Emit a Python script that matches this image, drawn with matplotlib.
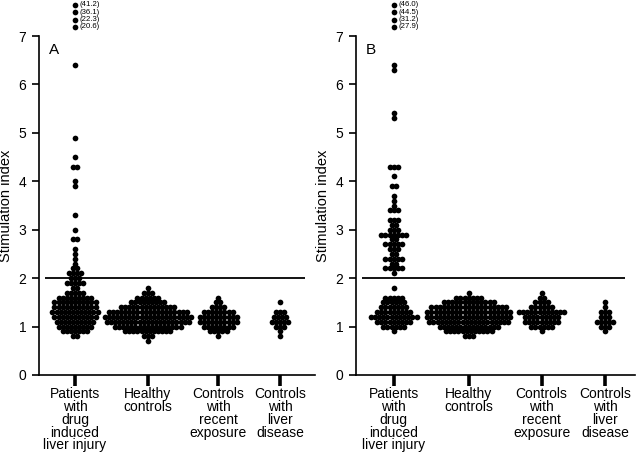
# -*- coding: utf-8 -*-
"""Stimulation index dot plots, panels A and B."""
import numpy as np
import matplotlib
matplotlib.use('Agg')
import matplotlib.pyplot as plt

plt.rcParams['font.family'] = ['Liberation Sans', 'DejaVu Sans']

categories = ['Patients\nwith\ndrug\ninduced\nliver injury', 'Healthy\ncontrols',
              'Controls\nwith\nrecent\nexposure', 'Controls\nwith\nliver\ndisease']

# panel A: stimulation index level -> number of subjects at that level
a_patients_lv = [6.4, 4.9, 4.5, 4.3, 4.0, 3.9, 3.3, 3.0, 2.8, 2.6, 2.5, 2.4, 2.3, 2.2, 2.1,
                 2.0, 1.9, 1.8, 1.7, 1.6, 1.5, 1.4, 1.3, 1.2, 1.1, 1.0, 0.9, 0.8]
a_patients_n = [1, 1, 1, 2, 1, 1, 1, 1, 2, 1, 1, 1, 1, 2, 4,
                3, 5, 2, 5, 9, 11, 11, 12, 11, 10, 9, 7, 2]
a_patients_off = [41.2, 36.1, 22.3, 20.6]

a_healthy_lv = [1.8, 1.7, 1.6, 1.5, 1.4, 1.3, 1.2, 1.1, 1.0, 0.9, 0.8, 0.7]
a_healthy_n = [1, 3, 6, 9, 14, 20, 22, 21, 17, 12, 3, 1]

a_recent_lv = [1.6, 1.5, 1.4, 1.3, 1.2, 1.1, 1.0, 0.9, 0.8]
a_recent_n = [1, 2, 4, 8, 10, 10, 8, 5, 1]

a_liver_lv = [1.5, 1.3, 1.2, 1.1, 1.0, 0.9, 0.8]
a_liver_n = [1, 3, 4, 5, 3, 1, 1]

# panel B
b_patients_lv = [6.4, 6.3, 5.4, 5.3, 4.3, 4.1, 3.9, 3.7, 3.6, 3.5, 3.4, 3.2, 3.1, 3.0, 2.9,
                 2.8, 2.7, 2.6, 2.5, 2.4, 2.3, 2.2, 2.1,
                 1.8, 1.6, 1.5, 1.4, 1.3, 1.2, 1.1, 1.0, 0.9]
b_patients_n = [1, 1, 1, 1, 3, 1, 2, 1, 1, 1, 3, 3, 2, 3, 7,
                2, 5, 3, 2, 5, 2, 5, 1,
                1, 5, 6, 7, 9, 12, 9, 6, 1]
b_patients_off = [46.0, 44.5, 31.2, 27.9]

b_healthy_lv = [1.7, 1.6, 1.5, 1.4, 1.3, 1.2, 1.1, 1.0, 0.9, 0.8]
b_healthy_n = [1, 7, 13, 19, 21, 21, 20, 15, 12, 3]

b_recent_lv = [1.7, 1.6, 1.5, 1.4, 1.3, 1.2, 1.1, 1.0, 0.9]
b_recent_n = [1, 2, 4, 6, 12, 9, 9, 6, 1]

b_liver_lv = [1.5, 1.4, 1.3, 1.2, 1.1, 1.0, 0.9]
b_liver_n = [1, 1, 3, 3, 5, 3, 1]

cutoff = 2.0


def swarm(levels, counts, center, dx):
    xs, ys = [], []
    for v, n in zip(levels, counts):
        offs = (np.arange(n) - (n - 1) / 2.0) * dx
        xs.extend(center + offs)
        ys.extend([v] * n)
    return xs, ys


def panel(rect, letter, groups, offscale, xpos):
    ax = fig.add_axes(rect)
    dx = 0.057
    ms = 4.1
    for (lv, n), x0 in zip(groups, xpos):
        xs, ys = swarm(lv, n, x0, dx)
        ax.plot(xs, ys, 'o', color='black', markersize=ms, markeredgewidth=0)

    # off-scale values stacked above the axis
    for k, v in enumerate(sorted(offscale)):
        y = 7.19 + 0.151 * k
        ax.plot([xpos[0]], [y], 'o', color='black', markersize=ms,
                markeredgewidth=0, clip_on=False)
        ax.text(xpos[0] + 0.06, y, '(%.1f)' % v, fontsize=5.6, va='center',
                ha='left', clip_on=False)

    ax.hlines(cutoff, -0.41, 3.19, color='black', lw=1.3)
    ax.set_xlim(-0.5, 3.33)
    ax.set_ylim(0, 7)
    ax.set_yticks(range(8))
    ax.set_xticks(xpos)
    ax.set_xticklabels(categories, fontsize=10, linespacing=0.88)
    ax.tick_params(axis='x', length=8, width=2.6, pad=1)
    ax.tick_params(axis='y', length=5, width=1.2, labelsize=10, pad=4)
    for s in ['top', 'right']:
        ax.spines[s].set_visible(False)
    for s in ['left', 'bottom']:
        ax.spines[s].set_linewidth(1.2)
    ax.set_ylabel('Stimulation index', fontsize=10.5, labelpad=4)
    ax.text(0.035, 0.98, letter, transform=ax.transAxes, fontsize=11,
            ha='left', va='top')
    return ax


fig = plt.figure(figsize=(6.4, 4.53), dpi=100)

##########################################################################
# panel A
#
panel([0.0609, 0.1722, 0.431, 0.7483], 'A',
      [(a_patients_lv, a_patients_n), (a_healthy_lv, a_healthy_n),
       (a_recent_lv, a_recent_n), (a_liver_lv, a_liver_n)],
      a_patients_off, [0, 1.01, 1.99, 2.85])

##########################################################################
# panel B
#
panel([0.556, 0.1722, 0.436, 0.7483], 'B',
      [(b_patients_lv, b_patients_n), (b_healthy_lv, b_healthy_n),
       (b_recent_lv, b_recent_n), (b_liver_lv, b_liver_n)],
      b_patients_off, [0.02, 1.05, 2.05, 2.92])

plt.savefig('out.png', dpi=100)
